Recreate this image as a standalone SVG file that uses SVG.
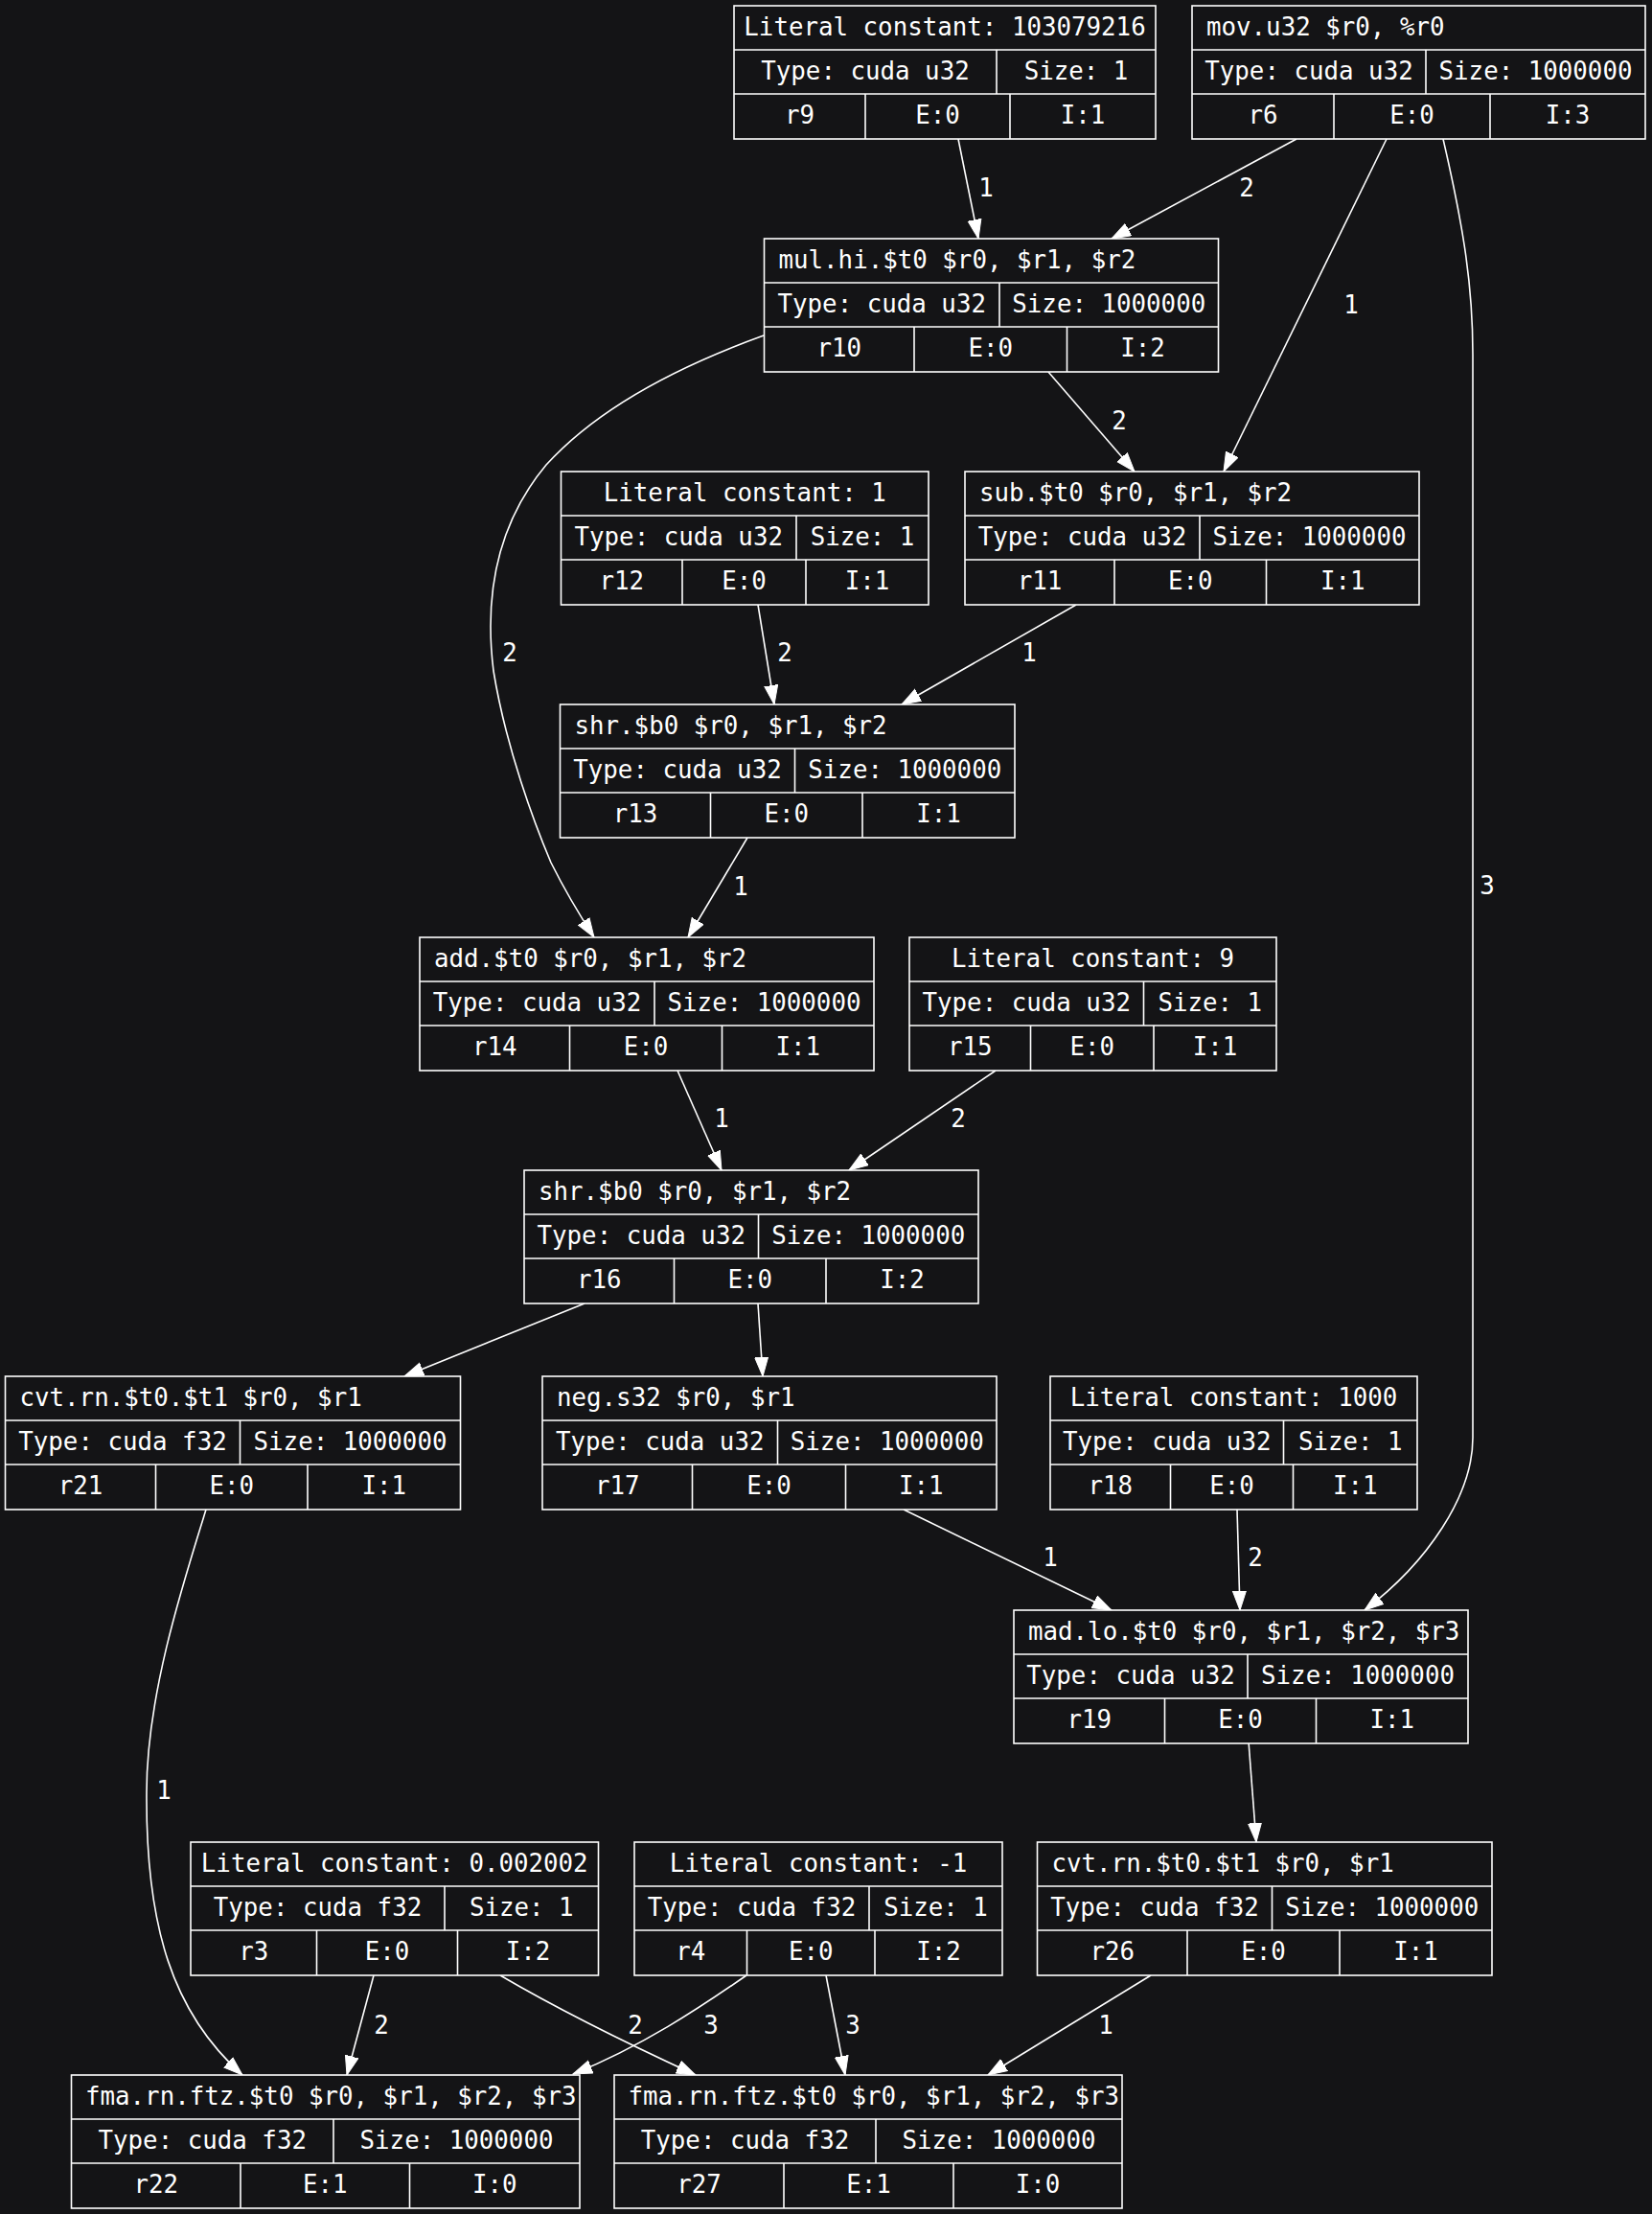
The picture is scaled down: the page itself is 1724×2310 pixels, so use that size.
<svg xmlns="http://www.w3.org/2000/svg" width="1724" height="2310" viewBox="0 0 1724 2310">
<style>
.bg{fill:#141416}
.box{fill:#141416;stroke:#ffffff;stroke-width:1.6}
.ln{stroke:#ffffff;stroke-width:1.6;fill:none}
text{font-family:"DejaVu Sans Mono","Liberation Mono",monospace;font-size:25.8px;fill:#ffffff}
.c{text-anchor:middle}
.e{stroke:#ffffff;stroke-width:1.6;fill:none;marker-end:url(#ah)}
</style>
<defs>
<marker id="ah" markerWidth="22" markerHeight="16" refX="20" refY="7.5" orient="auto" markerUnits="userSpaceOnUse">
<path d="M0,0.5 L20,7.5 L0,14.5 z" fill="#ffffff" stroke="#ffffff" stroke-width="1"/>
</marker>
</defs>
<rect class="bg" x="0" y="0" width="1724" height="2310"/>

<g id="edges">
<path class="e" d="M1000,145 L1021,249"/>
<path class="e" d="M1353,145 L1160,249"/>
<path class="e" d="M1447,145 L1277,492"/>
<path class="e" d="M1506,145 C1528,240 1537,300 1537,370 L1537,1500 C1537,1560 1490,1630 1424,1680"/>
<path class="e" d="M1094,388 L1184,492"/>
<path class="e" d="M797,350 C700,385 620,430 570,485 C520,545 505,620 515,700 C528,780 558,860 575,900 C590,930 605,955 620,978"/>
<path class="e" d="M791,631 L808,735"/>
<path class="e" d="M1123,631 L941,735"/>
<path class="e" d="M780,874 L718,978"/>
<path class="e" d="M707,1117 L753,1221"/>
<path class="e" d="M1039,1117 L886,1221"/>
<path class="e" d="M610,1360 L422,1436"/>
<path class="e" d="M791,1360 L796,1436"/>
<path class="e" d="M943,1575 L1160,1680"/>
<path class="e" d="M1291,1575 L1294,1680"/>
<path class="e" d="M215,1575 C190,1655 153,1770 153,1870 C152,2010 180,2100 253,2165"/>
<path class="e" d="M390,2061 L362,2165"/>
<path class="e" d="M522,2061 C580,2095 650,2130 726,2165"/>
<path class="e" d="M779,2061 C730,2095 670,2135 598,2164"/>
<path class="e" d="M862,2061 L882,2165"/>
<path class="e" d="M1201,2061 L1031,2165"/>
<path class="e" d="M1303,1817 L1311,1922"/>
<text class="c" x="1029" y="205">1</text>
<text class="c" x="1301" y="205">2</text>
<text class="c" x="1410" y="327">1</text>
<text class="c" x="1552" y="933">3</text>
<text class="c" x="1168" y="448">2</text>
<text class="c" x="532" y="690">2</text>
<text class="c" x="819" y="690">2</text>
<text class="c" x="1074" y="690">1</text>
<text class="c" x="773" y="934">1</text>
<text class="c" x="753" y="1176">1</text>
<text class="c" x="1000" y="1176">2</text>
<text class="c" x="1096" y="1634">1</text>
<text class="c" x="1310" y="1634">2</text>
<text class="c" x="171" y="1877">1</text>
<text class="c" x="398" y="2122">2</text>
<text class="c" x="663" y="2122">2</text>
<text class="c" x="742" y="2122">3</text>
<text class="c" x="890" y="2122">3</text>
<text class="c" x="1154" y="2122">1</text>
</g>

<g id="r9">
<rect class="box" x="766" y="6" width="440" height="139"/>
<path class="ln" d="M766,52 H1206 M766,98 H1206 M1040,52 V98 M903,98 V145 M1054,98 V145"/>
<text class="c" x="986" y="37">Literal constant: 103079216</text>
<text class="c" x="903" y="82.5">Type: cuda u32</text>
<text class="c" x="1123" y="82.5">Size: 1</text>
<text class="c" x="834.5" y="128.5">r9</text>
<text class="c" x="978.5" y="128.5">E:0</text>
<text class="c" x="1130" y="128.5">I:1</text>
</g>

<g id="r6">
<rect class="box" x="1244" y="6" width="473" height="139"/>
<path class="ln" d="M1244,52 H1717 M1244,98 H1717 M1488,52 V98 M1392,98 V145 M1555,98 V145"/>
<text x="1259" y="37">mov.u32 $r0, %r0</text>
<text class="c" x="1366" y="82.5">Type: cuda u32</text>
<text class="c" x="1602.5" y="82.5">Size: 1000000</text>
<text class="c" x="1318" y="128.5">r6</text>
<text class="c" x="1473.5" y="128.5">E:0</text>
<text class="c" x="1636" y="128.5">I:3</text>
</g>

<g id="r10">
<rect class="box" x="797.5" y="249" width="474" height="139"/>
<path class="ln" d="M797.5,295 H1271.5 M797.5,341 H1271.5 M1043,295 V341 M954,341 V388 M1113.5,341 V388"/>
<text x="812.5" y="280">mul.hi.$t0 $r0, $r1, $r2</text>
<text class="c" x="920.25" y="325.5">Type: cuda u32</text>
<text class="c" x="1157.25" y="325.5">Size: 1000000</text>
<text class="c" x="875.75" y="371.5">r10</text>
<text class="c" x="1033.75" y="371.5">E:0</text>
<text class="c" x="1192.5" y="371.5">I:2</text>
</g>

<g id="r12">
<rect class="box" x="585.5" y="492" width="383.5" height="139"/>
<path class="ln" d="M585.5,538 H969 M585.5,584 H969 M831,538 V584 M712,584 V631 M841,584 V631"/>
<text class="c" x="777.25" y="523">Literal constant: 1</text>
<text class="c" x="708.25" y="568.5">Type: cuda u32</text>
<text class="c" x="900" y="568.5">Size: 1</text>
<text class="c" x="648.75" y="614.5">r12</text>
<text class="c" x="776.5" y="614.5">E:0</text>
<text class="c" x="905" y="614.5">I:1</text>
</g>

<g id="r11">
<rect class="box" x="1007" y="492" width="474" height="139"/>
<path class="ln" d="M1007,538 H1481 M1007,584 H1481 M1252,538 V584 M1163,584 V631 M1321.5,584 V631"/>
<text x="1022" y="523">sub.$t0 $r0, $r1, $r2</text>
<text class="c" x="1129.5" y="568.5">Type: cuda u32</text>
<text class="c" x="1366.5" y="568.5">Size: 1000000</text>
<text class="c" x="1085" y="614.5">r11</text>
<text class="c" x="1242.25" y="614.5">E:0</text>
<text class="c" x="1401.25" y="614.5">I:1</text>
</g>

<g id="r13">
<rect class="box" x="584.5" y="735" width="474.5" height="139"/>
<path class="ln" d="M584.5,781 H1059 M584.5,827 H1059 M829.5,781 V827 M741.5,827 V874 M900,827 V874"/>
<text x="599.5" y="766">shr.$b0 $r0, $r1, $r2</text>
<text class="c" x="707" y="811.5">Type: cuda u32</text>
<text class="c" x="944.25" y="811.5">Size: 1000000</text>
<text class="c" x="663" y="857.5">r13</text>
<text class="c" x="820.75" y="857.5">E:0</text>
<text class="c" x="979.5" y="857.5">I:1</text>
</g>

<g id="r14">
<rect class="box" x="438" y="978" width="474" height="139"/>
<path class="ln" d="M438,1024 H912 M438,1070 H912 M683,1024 V1070 M594.5,1070 V1117 M753.5,1070 V1117"/>
<text x="453" y="1009">add.$t0 $r0, $r1, $r2</text>
<text class="c" x="560.5" y="1054.5">Type: cuda u32</text>
<text class="c" x="797.5" y="1054.5">Size: 1000000</text>
<text class="c" x="516.25" y="1100.5">r14</text>
<text class="c" x="674" y="1100.5">E:0</text>
<text class="c" x="832.75" y="1100.5">I:1</text>
</g>

<g id="r15">
<rect class="box" x="949" y="978" width="383" height="139"/>
<path class="ln" d="M949,1024 H1332 M949,1070 H1332 M1193.5,1024 V1070 M1075.5,1070 V1117 M1204,1070 V1117"/>
<text class="c" x="1140.5" y="1009">Literal constant: 9</text>
<text class="c" x="1071.25" y="1054.5">Type: cuda u32</text>
<text class="c" x="1262.75" y="1054.5">Size: 1</text>
<text class="c" x="1012.25" y="1100.5">r15</text>
<text class="c" x="1139.75" y="1100.5">E:0</text>
<text class="c" x="1268" y="1100.5">I:1</text>
</g>

<g id="r16">
<rect class="box" x="547" y="1221" width="474" height="139"/>
<path class="ln" d="M547,1267 H1021 M547,1313 H1021 M791.5,1267 V1313 M703.5,1313 V1360 M862,1313 V1360"/>
<text x="562" y="1252">shr.$b0 $r0, $r1, $r2</text>
<text class="c" x="669.25" y="1297.5">Type: cuda u32</text>
<text class="c" x="906.25" y="1297.5">Size: 1000000</text>
<text class="c" x="625.25" y="1343.5">r16</text>
<text class="c" x="782.75" y="1343.5">E:0</text>
<text class="c" x="941.5" y="1343.5">I:2</text>
</g>

<g id="r21">
<rect class="box" x="5.5" y="1436" width="475" height="139"/>
<path class="ln" d="M5.5,1482 H480.5 M5.5,1528 H480.5 M250.5,1482 V1528 M162.5,1528 V1575 M321,1528 V1575"/>
<text x="20.5" y="1467">cvt.rn.$t0.$t1 $r0, $r1</text>
<text class="c" x="128" y="1512.5">Type: cuda f32</text>
<text class="c" x="365.5" y="1512.5">Size: 1000000</text>
<text class="c" x="84" y="1558.5">r21</text>
<text class="c" x="241.75" y="1558.5">E:0</text>
<text class="c" x="400.75" y="1558.5">I:1</text>
</g>

<g id="r17">
<rect class="box" x="566" y="1436" width="474" height="139"/>
<path class="ln" d="M566,1482 H1040 M566,1528 H1040 M811.5,1482 V1528 M722.5,1528 V1575 M882.5,1528 V1575"/>
<text x="581" y="1467">neg.s32 $r0, $r1</text>
<text class="c" x="688.75" y="1512.5">Type: cuda u32</text>
<text class="c" x="925.75" y="1512.5">Size: 1000000</text>
<text class="c" x="644.25" y="1558.5">r17</text>
<text class="c" x="802.5" y="1558.5">E:0</text>
<text class="c" x="961.25" y="1558.5">I:1</text>
</g>

<g id="r18">
<rect class="box" x="1096" y="1436" width="383" height="139"/>
<path class="ln" d="M1096,1482 H1479 M1096,1528 H1479 M1339.5,1482 V1528 M1221.5,1528 V1575 M1349.5,1528 V1575"/>
<text class="c" x="1287.5" y="1467">Literal constant: 1000</text>
<text class="c" x="1217.75" y="1512.5">Type: cuda u32</text>
<text class="c" x="1409.25" y="1512.5">Size: 1</text>
<text class="c" x="1158.75" y="1558.5">r18</text>
<text class="c" x="1285.5" y="1558.5">E:0</text>
<text class="c" x="1414.25" y="1558.5">I:1</text>
</g>

<g id="r19">
<rect class="box" x="1058" y="1680" width="474" height="139"/>
<path class="ln" d="M1058,1726 H1532 M1058,1772 H1532 M1302,1726 V1772 M1215.5,1772 V1819 M1373.5,1772 V1819"/>
<text x="1073" y="1711">mad.lo.$t0 $r0, $r1, $r2, $r3</text>
<text class="c" x="1180" y="1756.5">Type: cuda u32</text>
<text class="c" x="1417" y="1756.5">Size: 1000000</text>
<text class="c" x="1136.75" y="1802.5">r19</text>
<text class="c" x="1294.5" y="1802.5">E:0</text>
<text class="c" x="1452.75" y="1802.5">I:1</text>
</g>

<g id="r3">
<rect class="box" x="199" y="1922" width="425.5" height="139"/>
<path class="ln" d="M199,1968 H624.5 M199,2014 H624.5 M464,1968 V2014 M330.5,2014 V2061 M477.5,2014 V2061"/>
<text class="c" x="411.75" y="1953">Literal constant: 0.002002</text>
<text class="c" x="331.5" y="1998.5">Type: cuda f32</text>
<text class="c" x="544.25" y="1998.5">Size: 1</text>
<text class="c" x="264.75" y="2044.5">r3</text>
<text class="c" x="404" y="2044.5">E:0</text>
<text class="c" x="551" y="2044.5">I:2</text>
</g>

<g id="r4">
<rect class="box" x="662" y="1922" width="384" height="139"/>
<path class="ln" d="M662,1968 H1046 M662,2014 H1046 M907,1968 V2014 M779.5,2014 V2061 M913,2014 V2061"/>
<text class="c" x="854" y="1953">Literal constant: -1</text>
<text class="c" x="784.5" y="1998.5">Type: cuda f32</text>
<text class="c" x="976.5" y="1998.5">Size: 1</text>
<text class="c" x="720.75" y="2044.5">r4</text>
<text class="c" x="846.25" y="2044.5">E:0</text>
<text class="c" x="979.5" y="2044.5">I:2</text>
</g>

<g id="r26">
<rect class="box" x="1082.5" y="1922" width="474.5" height="139"/>
<path class="ln" d="M1082.5,1968 H1557 M1082.5,2014 H1557 M1327.5,1968 V2014 M1239,2014 V2061 M1398,2014 V2061"/>
<text x="1097.5" y="1953">cvt.rn.$t0.$t1 $r0, $r1</text>
<text class="c" x="1205" y="1998.5">Type: cuda f32</text>
<text class="c" x="1442.25" y="1998.5">Size: 1000000</text>
<text class="c" x="1160.75" y="2044.5">r26</text>
<text class="c" x="1318.5" y="2044.5">E:0</text>
<text class="c" x="1477.5" y="2044.5">I:1</text>
</g>

<g id="r22">
<rect class="box" x="74.5" y="2165" width="530.5" height="139"/>
<path class="ln" d="M74.5,2211 H605 M74.5,2257 H605 M348,2211 V2257 M251,2257 V2304 M427.5,2257 V2304"/>
<text x="89" y="2196">fma.rn.ftz.$t0 $r0, $r1, $r2, $r3</text>
<text class="c" x="211.25" y="2241.5">Type: cuda f32</text>
<text class="c" x="476.5" y="2241.5">Size: 1000000</text>
<text class="c" x="162.75" y="2287.5">r22</text>
<text class="c" x="339.25" y="2287.5">E:1</text>
<text class="c" x="516.25" y="2287.5">I:0</text>
</g>

<g id="r27">
<rect class="box" x="641" y="2165" width="530" height="139"/>
<path class="ln" d="M641,2211 H1171 M641,2257 H1171 M914,2211 V2257 M818,2257 V2304 M995,2257 V2304"/>
<text x="655.5" y="2196">fma.rn.ftz.$t0 $r0, $r1, $r2, $r3</text>
<text class="c" x="777.5" y="2241.5">Type: cuda f32</text>
<text class="c" x="1042.5" y="2241.5">Size: 1000000</text>
<text class="c" x="729.5" y="2287.5">r27</text>
<text class="c" x="906.5" y="2287.5">E:1</text>
<text class="c" x="1083" y="2287.5">I:0</text>
</g>
</svg>
